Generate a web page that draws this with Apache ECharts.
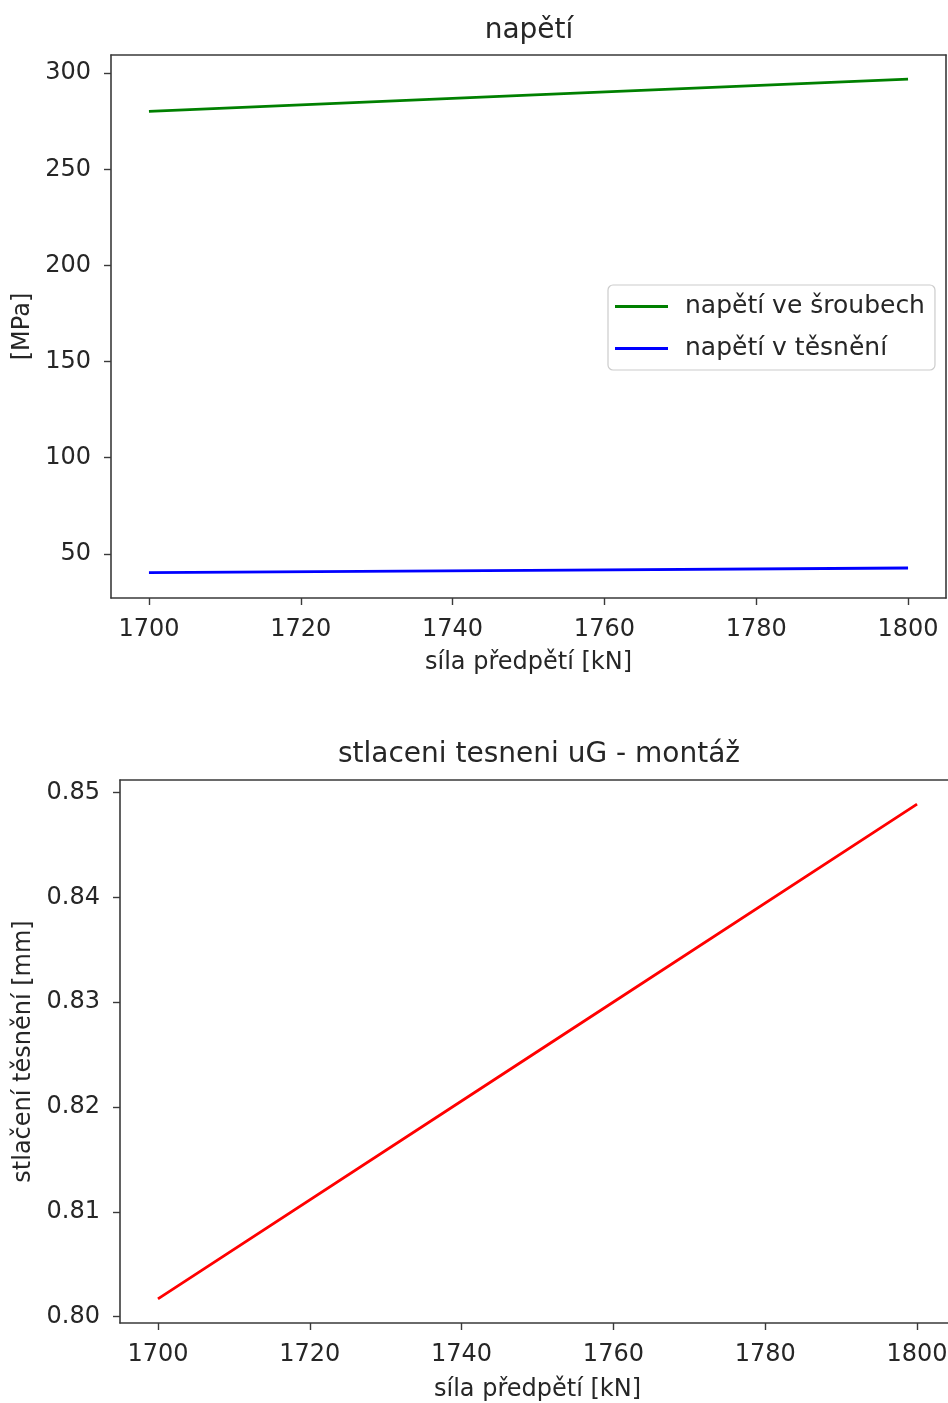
<!DOCTYPE html>
<html>
<head>
<meta charset="utf-8">
<script src="https://cdn.jsdelivr.net/npm/echarts@6/dist/echarts.min.js"></script>
<style>
html,body{margin:0;padding:0;background:#fff;}
#chart{width:948px;height:1403px;}
</style>
</head>
<body>
<div id="chart"></div>
<script>
// ---- data ----
const forceKN = [1700, 1750, 1800];
const boltStress = [280.2, 288.6, 296.9];        // napětí ve šroubech [MPa]
const gasketStress = [40.2, 41.4, 42.6];         // napětí v těsnění [MPa]
const gasketCompression = [0.8017, 0.8253, 0.8489]; // stlačení těsnění [mm]

const xTicks = [1700, 1720, 1740, 1760, 1780, 1800];
const yTicksStress = [50, 100, 150, 200, 250, 300];
const yTicksCompression = [0.80, 0.81, 0.82, 0.83, 0.84, 0.85];

const seriesNames = ['napětí ve šroubech', 'napětí v těsnění'];
const titles = ['napětí', 'stlaceni tesneni uG - montáž'];
const xName = 'síla předpětí [kN]';
const yNames = ['[MPa]', 'stlačení těsnění [mm]'];

// ---- chart ----
const FONT = 'DejaVu Sans';
const TXT = '#262626';
const AX = '#3a3a3a';

function pairs(xs, ys) { return xs.map((x, i) => [x, ys[i]]); }

function xAxis(gridIndex, gap) {
  return {
    type: 'value', gridIndex, min: 1695, max: 1805,
    name: xName, nameLocation: 'middle', nameGap: gap,
    nameTextStyle: {fontFamily: FONT, fontSize: 24, color: TXT},
    axisLine: {show: true, lineStyle: {color: AX, width: 1.6}},
    axisTick: {show: true, length: 7, lineStyle: {color: AX, width: 1.4}, customValues: xTicks},
    axisLabel: {fontFamily: FONT, fontSize: 24, color: TXT, margin: 20, customValues: xTicks,
                formatter: v => String(Math.round(v))},
    splitLine: {show: false}
  };
}
// spine-only axis (matplotlib box frame)
function spine(gridIndex, position, min, max) {
  return {
    type: 'value', gridIndex, position, min, max,
    axisLine: {show: true, onZero: false, lineStyle: {color: AX, width: 1.6}},
    axisTick: {show: false}, axisLabel: {show: false}, splitLine: {show: false}
  };
}
function yAxis(gridIndex, min, max, ticks, name, gap, dec) {
  return {
    type: 'value', gridIndex, min, max,
    name, nameLocation: 'middle', nameGap: gap, nameRotate: 90,
    nameTextStyle: {fontFamily: FONT, fontSize: 24, color: TXT},
    axisLine: {show: true, lineStyle: {color: AX, width: 1.6}},
    axisTick: {show: true, length: 7, lineStyle: {color: AX, width: 1.4}, customValues: ticks},
    axisLabel: {fontFamily: FONT, fontSize: 24, color: TXT, margin: 20, customValues: ticks,
                formatter: v => v.toFixed(dec)},
    splitLine: {show: false}
  };
}

const chart = echarts.init(document.getElementById('chart'), null, {renderer: 'canvas'});
chart.setOption({
  animation: false,
  backgroundColor: '#ffffff',
  title: [
    {text: titles[0], left: 524, top: 12, textAlign: 'center',
     textStyle: {fontFamily: FONT, fontSize: 28, fontWeight: 'normal', color: TXT}},
    {text: titles[1], left: 534, top: 736, textAlign: 'center',
     textStyle: {fontFamily: FONT, fontSize: 28, fontWeight: 'normal', color: TXT}}
  ],
  grid: [
    {left: 111, top: 55, width: 835, height: 543, outerBoundsMode: 'none', containLabel: false},
    {left: 120, top: 780, width: 835, height: 543, outerBoundsMode: 'none', containLabel: false}
  ],
  legend: {
    data: seriesNames.map(n => ({name: n, icon: 'rect'})),
    orient: 'vertical',
    left: 608, top: 285,
    itemWidth: 53, itemHeight: 3, itemGap: 17,
    padding: [9, 10, 9, 7],
    borderColor: '#cccccc', borderWidth: 1.2, borderRadius: 5,
    backgroundColor: 'rgba(255,255,255,0.8)',
    textStyle: {fontFamily: FONT, fontSize: 25, color: TXT, padding: [0, 0, 0, 12]}
  },
  xAxis: [
    xAxis(0, 53), xAxis(1, 55),
    spine(0, 'top', 1695, 1805), spine(1, 'top', 1695, 1805)
  ],
  yAxis: [
    yAxis(0, 27, 309.5, yTicksStress, yNames[0], 74, 0),
    yAxis(1, 0.7994, 0.8512, yTicksCompression, yNames[1], 84, 2),
    spine(0, 'right', 27, 309.5)
  ],
  series: [
    {name: seriesNames[0], type: 'line', xAxisIndex: 0, yAxisIndex: 0, symbol: 'none',
     data: pairs(forceKN, boltStress), lineStyle: {color: '#008000', width: 2.8}, itemStyle: {color: '#008000'}},
    {name: seriesNames[1], type: 'line', xAxisIndex: 0, yAxisIndex: 0, symbol: 'none',
     data: pairs(forceKN, gasketStress), lineStyle: {color: '#0000ff', width: 2.8}, itemStyle: {color: '#0000ff'}},
    {name: 'stlačení', type: 'line', xAxisIndex: 1, yAxisIndex: 1, symbol: 'none',
     data: pairs(forceKN, gasketCompression), lineStyle: {color: '#ff0000', width: 2.8}, itemStyle: {color: '#ff0000'}}
  ]
});
</script>
</body>
</html>
